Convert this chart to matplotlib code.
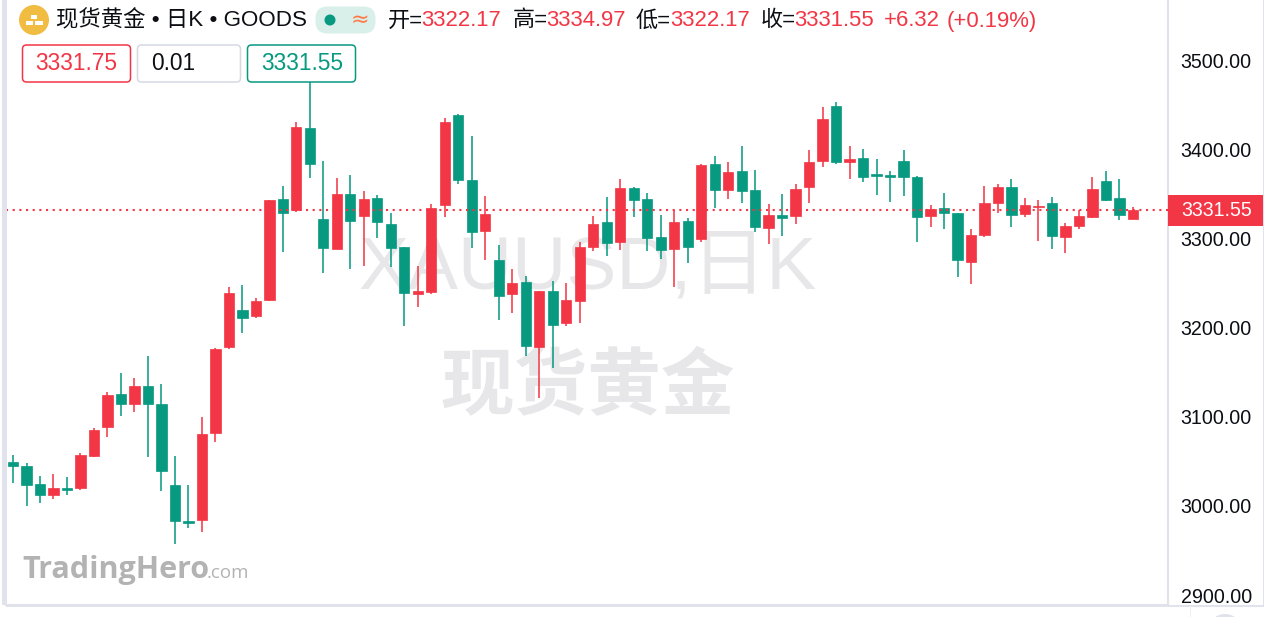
import matplotlib
matplotlib.use("Agg")
import matplotlib.pyplot as plt
import numpy as np
from matplotlib.patches import Circle, FancyBboxPatch, Rectangle
from matplotlib.transforms import blended_transform_factory

plt.rcParams['font.family'] = ['Liberation Sans', 'Noto Sans CJK SC', 'DejaVu Sans']

################################ DATA #########################################
opens = [3049.3, 3045.2, 3024.3, 3012.0, 3019.8, 3020.5, 3056.4, 3088.6, 3125.2, 3114.7, 3134.5, 3114.7,
         3023.5, 2983.2, 2984.3, 3081.8, 3178.3, 3219.7, 3213.0, 3230.9, 3344.2, 3331.5, 3424.1, 3321.4,
         3288.5, 3350.1, 3325.5, 3345.0, 3315.8, 3290.0, 3238.0, 3239.6, 3337.5, 3438.7, 3365.1, 3308.3,
         3275.8, 3237.7, 3250.8, 3177.9, 3240.7, 3205.2, 3229.8, 3290.4, 3318.1, 3296.0, 3356.5, 3343.8,
         3301.2, 3288.1, 3319.5, 3299.3, 3383.1, 3354.6, 3375.2, 3354.6, 3311.3, 3326.6, 3325.1, 3357.6,
         3386.8, 3448.4, 3385.7, 3390.1, 3371.9, 3370.8, 3386.8, 3368.5, 3324.8, 3333.8, 3328.5, 3273.2,
         3303.5, 3339.7, 3357.6, 3327.0, 3335.2, 3339.4, 3301.9, 3313.9, 3324.3, 3364.7, 3345.0, 3322.17]
highs = [3057.2, 3047.9, 3033.6, 3035.9, 3032.2, 3059.8, 3087.4, 3128.1, 3149.4, 3143.5, 3168.2, 3136.8,
         3055.7, 3023.2, 3099.8, 3177.1, 3245.5, 3247.8, 3233.2, 3343.6, 3358.4, 3430.8, 3475.3, 3386.8,
         3367.4, 3371.1, 3353.5, 3348.7, 3328.5, 3290.7, 3269.4, 3338.2, 3435.3, 3439.1, 3415.1, 3347.5,
         3292.6, 3265.7, 3257.5, 3241.0, 3252.2, 3250.3, 3296.0, 3325.1, 3346.1, 3366.3, 3357.3, 3350.6,
         3325.9, 3331.8, 3322.9, 3383.4, 3392.7, 3385.3, 3403.9, 3376.4, 3338.6, 3349.4, 3361.3, 3399.1,
         3447.0, 3452.9, 3403.6, 3400.6, 3388.7, 3375.2, 3398.8, 3370.3, 3337.5, 3350.6, 3328.5, 3310.2,
         3358.8, 3360.6, 3366.3, 3345.3, 3343.1, 3346.4, 3316.9, 3331.8, 3369.2, 3375.6, 3366.9, 3334.97]
lows = [3026.1, 3000.3, 3003.0, 3008.2, 3012.7, 3018.3, 3054.6, 3077.4, 3100.9, 3105.7, 3054.6, 3016.5,
        2957.1, 2975.0, 2970.5, 3072.1, 3176.0, 3193.9, 3210.8, 3229.8, 3284.8, 3329.6, 3367.4, 3260.9,
        3288.5, 3265.7, 3268.7, 3300.5, 3267.6, 3202.1, 3223.1, 3238.0, 3324.0, 3361.0, 3289.2, 3275.5,
        3208.5, 3216.7, 3168.5, 3121.4, 3155.0, 3202.1, 3205.2, 3286.2, 3280.3, 3287.3, 3324.3, 3286.2,
        3277.2, 3245.9, 3272.4, 3296.0, 3333.8, 3344.2, 3339.7, 3307.5, 3294.1, 3302.7, 3316.2, 3339.4,
        3380.4, 3383.8, 3366.9, 3363.2, 3348.3, 3341.2, 3347.9, 3296.0, 3312.5, 3310.2, 3256.4, 3248.5,
        3301.6, 3328.1, 3312.5, 3324.3, 3297.1, 3287.8, 3283.3, 3310.9, 3322.9, 3341.6, 3321.0, 3322.17]
closes = [3045.2, 3023.9, 3012.3, 3020.5, 3018.3, 3057.2, 3085.5, 3124.4, 3114.7, 3134.2, 3114.0, 3039.2,
          2983.2, 2981.3, 3080.4, 3176.3, 3238.8, 3211.3, 3229.8, 3343.1, 3328.8, 3425.2, 3383.1, 3289.2,
          3349.8, 3319.9, 3344.2, 3318.1, 3289.2, 3238.8, 3241.4, 3334.1, 3430.8, 3365.1, 3307.2, 3327.0,
          3235.1, 3250.3, 3179.0, 3240.7, 3202.9, 3230.6, 3290.4, 3315.8, 3295.2, 3356.5, 3342.7, 3300.5,
          3287.0, 3318.1, 3290.4, 3382.3, 3353.9, 3374.1, 3353.1, 3312.5, 3325.9, 3323.2, 3355.4, 3386.0,
          3433.9, 3385.3, 3389.4, 3368.8, 3370.3, 3369.2, 3369.2, 3323.7, 3332.6, 3328.8, 3275.4, 3303.5,
          3339.4, 3357.6, 3326.2, 3337.5, 3336.7, 3302.4, 3313.9, 3324.8, 3355.7, 3343.1, 3325.9, 3331.55]
price_ticks = [2900, 3000, 3100, 3200, 3300, 3400, 3500]
last_price = 3331.55

chart_title = "现货黄金 • 日K • GOODS"
ohlc_labels = [(388, "开=", "k"), (421, "3322.17", "r"), (513, "高=", "k"), (546, "3334.97", "r"),
               (636, "低=", "k"), (670, "3322.17", "r"), (761, "收=", "k"), (794, "3331.55", "r"),
               (884, "+6.32", "r"), (947, "(+0.19%)", "r")]

red = "#f23645"
green = "#089981"
ink = "#0c0e14"
line_col = "#e0e3eb"
wm_col = "#e7e7e9"
W, H = 1265, 617

################################ FIGURE #######################################
fig = plt.figure(figsize=(W/100, H/100), dpi=100, facecolor="white")

# bg layer for watermark, fg layer for header stuff, both in pixels
bg = fig.add_axes([0, 0, 1, 1], zorder=0)
fg = fig.add_axes([0, 0, 1, 1], zorder=3)
for a in [bg, fg]:
    a.set_xlim(0, W)
    a.set_ylim(H, 0)
    a.axis("off")

ax = fig.add_axes([6/W, (H-605)/H, 1162/W, 605/H], zorder=1)
ax.patch.set_visible(False)

x = np.arange(len(opens))
o, h, l, c = map(np.array, (opens, highs, lows, closes))
up = c >= o
cols = np.where(up, red, green)

ax.vlines(x, l, h, colors=cols, linewidth=1.4, alpha=0.8, zorder=2)
ax.bar(x, np.abs(c - o), bottom=np.minimum(o, c), width=0.76, color=cols,
       edgecolor=cols, linewidth=0.5, zorder=3)
ax.axhline(last_price, color=red, linewidth=1.5, linestyle=(0, (1, 2.2)), zorder=4)

ax.set_xlim(-0.52, 85.6)
ax.set_ylim(2889, 3567.3)
ax.set_xticks([])
ax.set_yticks(price_ticks)
ax.set_yticklabels([f"{p:.2f}" for p in price_ticks], fontsize=14.1, color=ink, va="center_baseline")
ax.yaxis.tick_right()
ax.tick_params(axis="y", length=0, pad=9)
for side in ["top", "left"]:
    ax.spines[side].set_visible(False)
for side in ["right", "bottom"]:
    ax.spines[side].set_color(line_col)
    ax.spines[side].set_linewidth(1.5)

################################ WATERMARK ####################################
bg.text(587, 269, "XAUUSD,日K", fontsize=54, color=wm_col, ha="center", va="center")
bg.text(588, 389, "现货黄金", fontsize=53, fontweight="bold", color=wm_col, ha="center", va="center")

############################### DECORATION ####################################
fg.add_patch(Rectangle((2, 0), 4.5, 605, color=line_col, lw=0))
fg.add_patch(Rectangle((1262.5, 0), 1.5, 605, color=line_col, lw=0))
fg.add_patch(Rectangle((6, 605), 1258, 1.5, color=line_col, lw=0))
fg.add_patch(Rectangle((1190, 606), 1, 11, color="#f0f1f5", lw=0))
fg.add_patch(Circle((1225, 632), 18, color="#e0e3eb", lw=0))

# logo
fg.add_patch(Circle((34, 20), 15, color="#f0bc42", lw=0))
for bx, by, bw in [(30.7, 15, 6.6), (26, 21, 7.3), (35, 21, 7.7)]:
    fg.add_patch(Rectangle((bx, by), bw, 4, color="white", lw=0))

fg.text(56, 20.5, chart_title, fontsize=16.1, color=ink, va="center")

# status pill
fg.add_patch(FancyBboxPatch((315.5, 6.5), 60, 27, boxstyle="round,pad=0,rounding_size=12",
                            facecolor="#d9f0ea", edgecolor="none"))
fg.add_patch(Circle((330, 20), 5.5, color=green, lw=0))
fg.text(360, 20, "≈", fontsize=16, color="#ff7a45", ha="center", va="center", family="DejaVu Sans")

for px, txt, col in ohlc_labels:
    fg.text(px, 21, txt, fontsize=15.9, color=red if col == "r" else ink, va="center")

# order boxes
for bx, bw, edge, txt, tcol, tx, ha in [(22.5, 108, red, "3331.75", red, 76.5, "center"),
                                        (137.5, 103, "#d6d9e4", "0.01", ink, 151, "left"),
                                        (247.5, 108, green, "3331.55", green, 302, "center")]:
    fg.add_patch(FancyBboxPatch((bx, 45), bw, 37, boxstyle="round,pad=0,rounding_size=4",
                                facecolor="white", edgecolor=edge, linewidth=1.1))
    fg.text(tx, 63.5, txt, fontsize=16.4, color=tcol, ha=ha, va="center")

# last price tag
tr = blended_transform_factory(ax.transAxes, ax.transData)
ax.add_patch(Rectangle((1.0, last_price - 17.2), 95/1162, 34.6, transform=tr, facecolor=red,
                       edgecolor="none", clip_on=False, zorder=6))
ax.text(1.0 + 13/1162, last_price, f"{last_price:.2f}", transform=tr, fontsize=14.1, color="white",
        va="center", zorder=7, clip_on=False)

# TradingHero logo
fg.text(22, 570, "TradingHero", fontsize=22, fontweight="bold", color="#b3b3b3", va="center",
        family="Open Sans")
fg.text(207, 573, ".com", fontsize=13.5, color="#b3b3b3", va="center", family="Open Sans")

plt.savefig("out.png", dpi=100)
plt.close()
